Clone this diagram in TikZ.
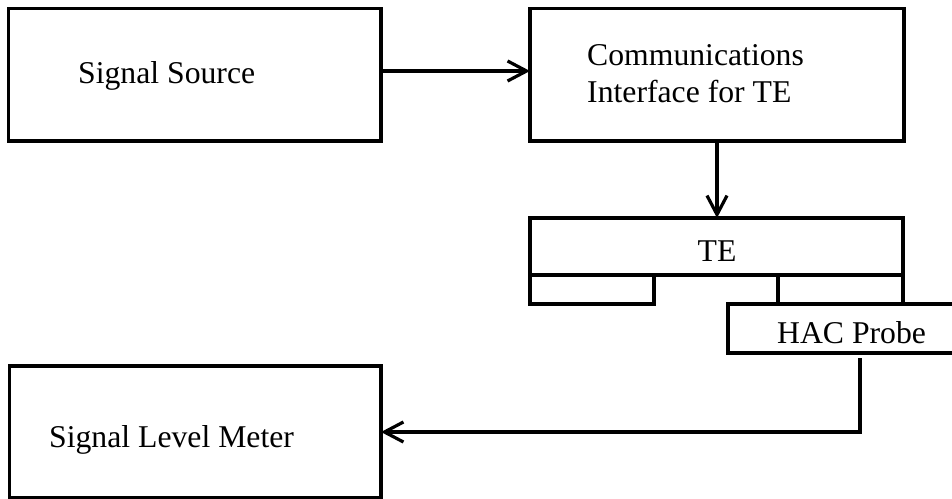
\documentclass[tikz,border=0pt]{standalone}
\usepackage{fontspec}
\setmainfont{Liberation Serif}
\usetikzlibrary{arrows.meta}
\begin{document}
\begin{tikzpicture}[x=1pt,y=-1pt,
  boxline/.style={draw=black,line width=3.2pt,line join=miter},
  lbl/.style={inner sep=0pt,anchor=base west,font=\fontsize{31.7}{37}\selectfont},
  conn/.style={line width=3.2pt,-{Straight Barb[length=19pt,width=20pt,line width=3.2pt]}},
  wire/.style={line width=3.2pt}]
\useasboundingbox (0,0) rectangle (952,498);
% boxes
\draw[boxline] (8.5,8.5) rectangle (381,141);
\coordinate (ssE) at (381,71);
\draw[boxline] (530,8.5) rectangle (904,141);
\coordinate (ciW) at (530,71);
\coordinate (ciS) at (717,141);
\draw[boxline] (530,218) rectangle (903,275);
\coordinate (teN) at (717,218);
\draw[boxline] (530,275) rectangle (654,304);
\draw[boxline] (778,275) rectangle (903,304);
\draw[boxline] (728,304) rectangle (960,353);
\coordinate (hacS) at (860,358);
\draw[boxline] (9.5,366) rectangle (381,497.5);
\coordinate (slmE) at (381,432);
\coordinate (bend) at (860,432);
% labels
\node[lbl] (t1) at (78,83) {Signal Source};
\node[lbl] (t2) at (587,65) {Communications};
\node[lbl] (t3) at (587,102) {Interface for TE};
\node[lbl,anchor=base] (t4) at (717,261) {TE};
\node[lbl] (t5) at (777,343) {HAC Probe};
\node[lbl] (t6) at (49,447) {Signal Level Meter};
% connectors
\draw[conn] (ssE) -- (ciW);
\draw[conn] (ciS) -- (teN);
\draw[conn] (hacS) -- (bend) -- (slmE);
\end{tikzpicture}
\end{document}
